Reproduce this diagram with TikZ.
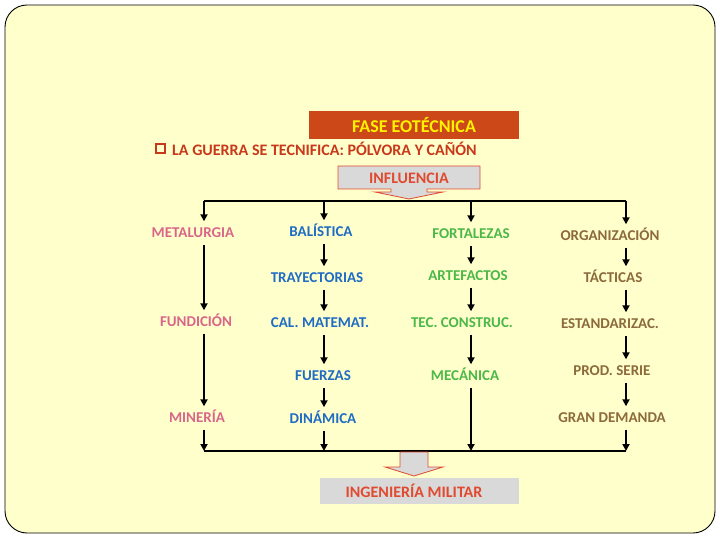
\documentclass[tikz,border=0pt]{standalone}
\usepackage{fontspec}
\setmainfont{Carlito}
\usetikzlibrary{arrows.meta}
\definecolor{bg}{HTML}{FFFFCC}
\definecolor{faseor}{HTML}{CC4818}
\definecolor{redtxt}{HTML}{C8381A}
\definecolor{inflred}{HTML}{E04A30}
\definecolor{pinkc}{HTML}{D9668A}
\definecolor{bluec}{HTML}{1F6CC4}
\definecolor{greenc}{HTML}{4CB848}
\definecolor{brownc}{HTML}{8C6A3C}
\definecolor{grayc}{HTML}{D9D9D9}
\tikzset{
  lbl/.style={font=\bfseries\fontsize{15}{17}\selectfont, inner xsep=1pt, inner ysep=0pt, text height=11pt, text depth=2pt, minimum height=23pt},
  pink/.style={lbl, text=pinkc},
  blue/.style={lbl, text=bluec},
  green/.style={lbl, text=greenc},
  brown/.style={lbl, text=brownc},
  arr/.style={line width=1.8pt, -{Triangle[length=7pt,width=7pt]}},
  hline/.style={line width=1.3pt},
  bigarrow/.style={fill=grayc, draw=inflred, line width=0.8pt},
}
\begin{document}
\begin{tikzpicture}[x=1pt,y=-1pt]
\useasboundingbox (0,0) rectangle (720,540);
\draw[fill=bg, rounded corners=22pt, line width=0.9pt] (5,5) rectangle (715,533);

% header
\fill[faseor] (309,111) rectangle (519,139);
\node[font=\bfseries\fontsize{18}{20}\selectfont, text=yellow] (fase) at (414,125) {FASE EOTÉCNICA};
\draw[redtxt, line width=1.8pt] (156,144) rectangle (165,153);
\node[anchor=west, font=\bfseries\fontsize{16}{18}\selectfont, text=redtxt, inner sep=0pt] (guerra) at (172,149) {LA GUERRA SE TECNIFICA: PÓLVORA Y CAÑÓN};

% influencia arrow
\draw[bigarrow] (338,166) -- (480,166) -- (480,189) -- (427,189) -- (427,192) -- (443,192) -- (409,199) -- (375,192) -- (391,192) -- (391,189) -- (338,189) -- cycle;
\node[font=\bfseries\fontsize{16}{18}\selectfont, text=inflred] (infl) at (409,178) {INFLUENCIA};

% column top / bottom coordinates
\coordinate (t1) at (204,201);
\coordinate (t2) at (324,201);
\coordinate (t3) at (471,201);
\coordinate (t4) at (626,201);
\coordinate (b1) at (204,451);
\coordinate (b2) at (324,451);
\coordinate (b3) at (471,451);
\coordinate (b4) at (626,451);
\draw[hline] (t1) -- (t4);
\draw[hline] (b1) -- (b4);

% column 1
\node[pink] (metal) at (193,233) {METALURGIA};
\node[pink] (fund) at (196,322) {FUNDICIÓN};
\node[pink] (mine) at (197,418) {MINERÍA};
% column 2
\node[blue] (bali) at (321,232) {BALÍSTICA};
\node[blue] (tray) at (317,278) {TRAYECTORIAS};
\node[blue] (calm) at (320,323) {CAL. MATEMAT.};
\node[blue] (fuer) at (323,376) {FUERZAS};
\node[blue] (dina) at (323,419) {DINÁMICA};
% column 3
\node[green] (fort) at (471,234) {FORTALEZAS};
\node[green] (arte) at (468,276) {ARTEFACTOS};
\node[green] (tecc) at (462,323) {TEC. CONSTRUC.};
\node[green] (meca) at (465,376) {MECÁNICA};
% column 4
\node[brown] (orga) at (610,236) {ORGANIZACIÓN};
\node[brown] (tact) at (613,278) {TÁCTICAS};
\node[brown] (esta) at (610,324) {ESTANDARIZAC.};
\node[brown] (prod) at (612,371) {PROD. SERIE};
\node[brown] (gran) at (612,418) {GRAN DEMANDA};

% arrows column 1
\draw[arr] (t1) -- (metal.north -| t1);
\draw[arr] (metal.south -| t1) -- (fund.north -| t1);
\draw[arr] (fund.south -| t1) -- (mine.north -| t1);
\draw[arr] (mine.south -| t1) -- (b1);
% column 2
\draw[arr] (t2) -- (bali.north -| t2);
\draw[arr] (bali.south -| t2) -- (tray.north -| t2);
\draw[arr] (tray.south -| t2) -- (calm.north -| t2);
\draw[arr] (calm.south -| t2) -- (fuer.north -| t2);
\draw[arr] (fuer.south -| t2) -- (dina.north -| t2);
\draw[arr] (dina.south -| t2) -- (b2);
% column 3
\draw[arr] (t3) -- (fort.north -| t3);
\draw[arr] (fort.south -| t3) -- (arte.north -| t3);
\draw[arr] (arte.south -| t3) -- (tecc.north -| t3);
\draw[arr] (tecc.south -| t3) -- (meca.north -| t3);
\draw[arr] (meca.south -| t3) -- (b3);
% column 4
\draw[arr] (t4) -- (orga.north -| t4);
\draw[arr] (orga.south -| t4) -- (tact.north -| t4);
\draw[arr] (tact.south -| t4) -- (esta.north -| t4);
\draw[arr] (esta.south -| t4) -- (prod.north -| t4);
\draw[arr] (prod.south -| t4) -- (gran.north -| t4);
\draw[arr] (gran.south -| t4) -- (b4);

% bottom arrow and result
\draw[bigarrow] (400,452) -- (428,452) -- (428,467) -- (443,467) -- (414,476) -- (385,467) -- (400,467) -- cycle;
\fill[grayc] (320,478) rectangle (519,504);
\node[font=\bfseries\fontsize{16}{18}\selectfont, text=inflred] (ing) at (414,491) {INGENIERÍA MILITAR};
\end{tikzpicture}
\end{document}
